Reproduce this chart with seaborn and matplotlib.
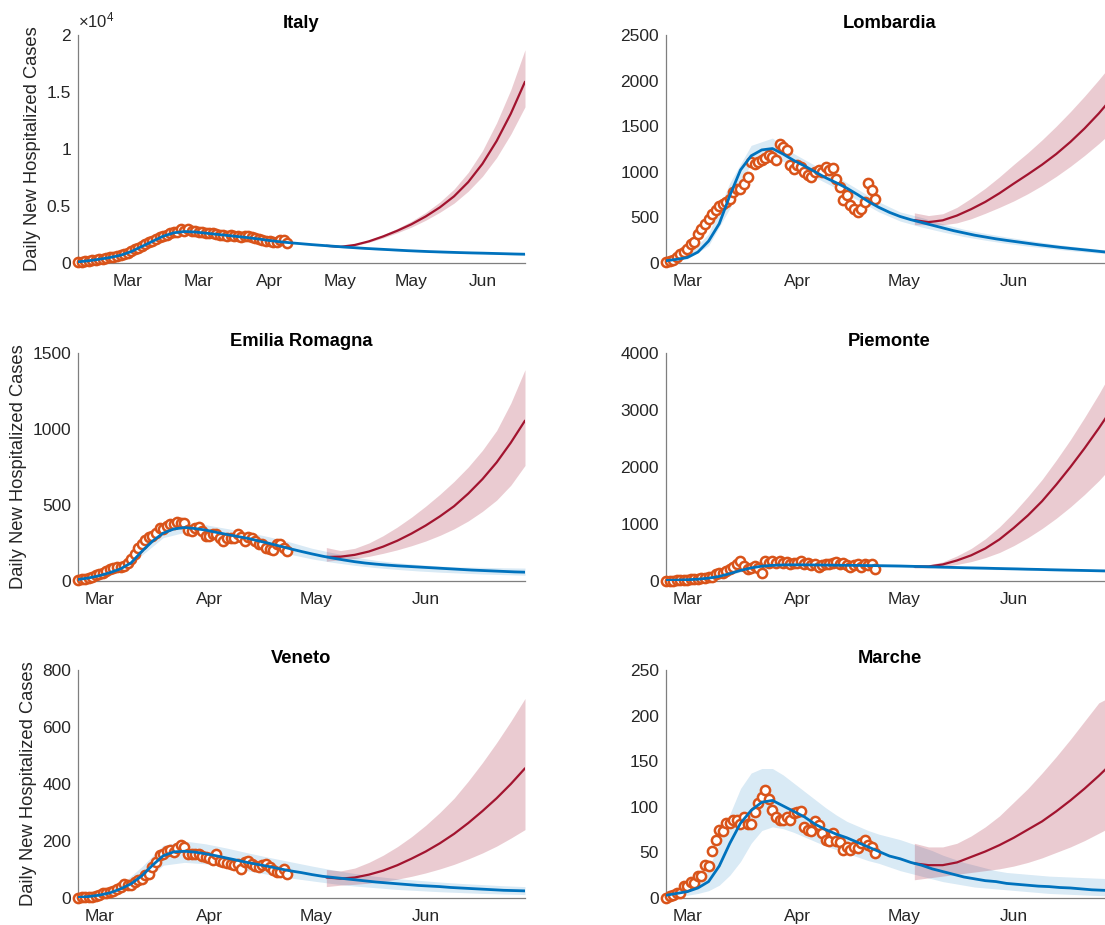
import numpy as np
import pandas as pd
import matplotlib
matplotlib.use("Agg")
import matplotlib.pyplot as plt
import matplotlib.dates as mdates
import seaborn as sns

# ---------------- data ----------------
START = pd.Timestamp("2020-02-24")
obs_days = np.arange(0, 60)          # Feb 24 .. Apr 23
fit_days = np.arange(0, 127, 3)      # fitted curve sample days
band_days = np.arange(0, 127, 6)     # fitted band sample days (coarse)
fc_days = np.arange(70, 127, 4)      # forecast (from May 4)

region_names = ["Italy", "Lombardia", "Emilia Romagna", "Piemonte", "Veneto", "Marche"]

italy_obs = [100, 130, 170, 210, 250, 290, 330, 380, 430, 490, 560, 640, 720, 800, 900, 1050, 1200, 1350, 1500, 1650,
             1800, 1950, 2100, 2250, 2400, 2500, 2600, 2750, 2700, 2950, 2850, 2950, 2800, 2850, 2750, 2700, 2650, 2600, 2600, 2550,
             2500, 2450, 2400, 2450, 2350, 2400, 2300, 2350, 2400, 2300, 2200, 2100, 2000, 1950, 1900, 1850, 1850, 2050, 2050, 1750]
italy_fit = [100, 200, 330, 480, 680, 1000, 1450, 1900, 2350, 2650, 2760, 2720, 2620, 2520, 2420, 2320, 2220, 2100, 1970, 1860,
             1770, 1690, 1610, 1540, 1470, 1400, 1340, 1280, 1230, 1180, 1130, 1080, 1040, 1000, 970, 940, 910, 885, 865, 840,
             815, 790, 770]
italy_lo = [90, 300, 620, 1380, 2300, 2680, 2530, 2320, 2120, 1880, 1690, 1540, 1400, 1270, 1160, 1060, 980, 900, 840, 790, 750, 700]
italy_hi = [115, 360, 740, 1620, 2500, 2880, 2690, 2480, 2290, 2030, 1840, 1690, 1550, 1420, 1310, 1210, 1120, 1050, 990, 940, 890, 850]
italy_fc = [1510, 1420, 1580, 1900, 2330, 2830, 3400, 4080, 4880, 5850, 7100, 8700, 10700, 13100, 15900]
italy_fc_lo = [1480, 1380, 1520, 1810, 2200, 2650, 3150, 3750, 4450, 5250, 6300, 7600, 9250, 11300, 13700]
italy_fc_hi = [1540, 1470, 1650, 2010, 2480, 3030, 3670, 4430, 5350, 6480, 7950, 9850, 12300, 15200, 18700]

lomb_obs = [10, 22, 37, 66, 95, 121, 157, 212, 230, 322, 377, 432, 487, 534, 578, 622, 651, 670, 706, 780,
            816, 816, 871, 944, 1109, 1091, 1109, 1127, 1146, 1182, 1164, 1127, 1310, 1274, 1237, 1072, 1036, 1072, 1054, 999,
            963, 944, 999, 1017, 999, 1054, 1017, 1047, 926, 834, 688, 743, 633, 597, 560, 597, 670, 878, 798, 706]
lomb_fit = [25, 40, 60, 120, 240, 430, 740, 1020, 1175, 1240, 1255, 1195, 1125, 1065, 1000, 935, 880, 820, 750, 675,
            610, 555, 510, 475, 445, 415, 385, 355, 330, 305, 285, 265, 248, 232, 216, 200, 186, 172, 160, 148,
            136, 124, 112]
lomb_lo = [15, 45, 190, 600, 1100, 1170, 1060, 940, 820, 690, 560, 460, 395, 340, 290, 250, 215, 185, 160, 135, 115, 95]
lomb_hi = [40, 80, 320, 880, 1290, 1370, 1200, 1070, 950, 810, 670, 560, 500, 430, 370, 325, 285, 250, 215, 185, 160, 135]
lomb_fc = [470, 448, 468, 520, 590, 670, 765, 870, 972, 1078, 1195, 1328, 1476, 1640, 1823]
lomb_fc_lo = [420, 420, 418, 440, 485, 545, 610, 680, 760, 850, 950, 1060, 1180, 1310, 1450]
lomb_fc_hi = [550, 520, 540, 610, 710, 820, 945, 1080, 1210, 1350, 1500, 1660, 1830, 2010, 2200]

emil_obs = [7, 11, 15, 22, 28, 39, 48, 55, 66, 77, 88, 94,
            90, 99, 120, 142, 175, 219, 241, 267, 289, 296, 318, 350, 339, 361, 372, 372, 390, 383, 380,
            333, 328, 346, 355, 328, 296, 296, 307, 311, 285, 263, 285, 280, 280, 307, 290, 263, 289, 285, 263,
            245, 241, 219, 208, 201, 241, 241, 215, 197]
emil_fit = [10, 20, 35, 55, 80, 120, 195, 262, 315, 342, 352, 345, 335, 320, 306, 293, 280, 263, 247, 229,
            211, 194, 178, 163, 150, 138, 127, 118, 111, 105, 100, 96, 92, 88, 84, 80, 76, 72, 69, 66,
            63, 60, 58]
emil_lo = [5, 25, 70, 170, 285, 320, 300, 270, 240, 205, 175, 145, 122, 103, 88, 76, 66, 58, 52, 46, 42, 38]
emil_hi = [15, 45, 100, 215, 335, 385, 370, 345, 320, 290, 255, 215, 185, 158, 136, 120, 108, 98, 92, 90, 87, 85]
emil_fc = [158, 160, 172, 194, 226, 265, 312, 365, 425, 492, 575, 670, 780, 910, 1055]
emil_fc_lo = [130, 140, 148, 162, 182, 205, 232, 263, 300, 343, 395, 458, 532, 630, 760]
emil_fc_hi = [220, 200, 215, 250, 298, 355, 420, 492, 570, 655, 750, 860, 990, 1170, 1390]

piem_obs = [0, 0, 6, 12, 12, 18, 23, 29, 35, 41, 47, 53, 65, 76, 117, 147, 135, 176, 205, 252,
            293, 352, 264, 205, 235, 264, 235, 147, 352, 323, 352, 311, 352, 311, 335, 293, 311, 323, 352, 293,
            311, 276, 293, 252, 276, 293, 293, 323, 335, 293, 311, 276, 252, 276, 293, 252, 293, 276, 293, 205]
piem_fit = [10, 15, 22, 32, 50, 80, 130, 185, 230, 260, 275, 282, 284, 283, 281, 279, 277, 275, 273, 271,
            269, 266, 263, 258, 253, 248, 243, 238, 233, 229, 225, 220, 216, 212, 207, 203, 198, 194, 190, 186,
            182, 178, 174]
piem_lo = [5, 15, 40, 110, 205, 250, 260, 257, 253, 249, 245, 239, 230, 221, 212, 204, 196, 188, 180, 172, 165, 158]
piem_hi = [15, 30, 60, 150, 255, 300, 310, 305, 301, 297, 293, 287, 276, 265, 254, 246, 236, 226, 216, 208, 199, 190]
piem_fc = [255, 255, 290, 360, 450, 570, 730, 930, 1150, 1400, 1690, 2000, 2330, 2680, 3050]
piem_fc_lo = [230, 230, 250, 290, 340, 410, 500, 620, 760, 920, 1100, 1300, 1520, 1760, 2030]
piem_fc_hi = [285, 285, 335, 440, 570, 740, 950, 1200, 1480, 1780, 2120, 2480, 2870, 3280, 3720]

vene_obs = [0, 2, 3, 5, 5, 7, 12, 17, 17, 20, 26, 32, 40, 50, 47, 47, 56, 62, 67, 79,
            85, 109, 127, 150, 156, 166, 170, 162, 177, 186, 180, 156, 156, 154, 154, 147, 144, 142, 135, 154,
            130, 127, 123, 121, 115, 118, 103, 127, 130, 121, 111, 109, 115, 118, 109, 97, 91, 91, 103, 85]
vene_fit = [2, 5, 10, 18, 32, 50, 78, 115, 148, 162, 164, 161, 155, 148, 140, 132, 124, 117, 110, 102,
            95, 89, 82, 76, 72, 68, 64, 60, 56, 53, 50, 47, 44, 42, 40, 37, 35, 33, 31, 29,
            27, 26, 25]
vene_lo = [0, 5, 20, 50, 115, 125, 120, 108, 95, 82, 70, 60, 50, 42, 36, 30, 26, 22, 19, 16, 14, 12]
vene_hi = [5, 15, 45, 110, 185, 200, 190, 175, 158, 142, 127, 112, 98, 86, 76, 68, 62, 56, 51, 47, 43, 40]
vene_fc = [72, 68, 72, 82, 96, 115, 138, 163, 192, 225, 263, 305, 350, 400, 455]
vene_fc_lo = [40, 45, 48, 52, 58, 66, 76, 88, 102, 118, 137, 158, 182, 210, 240]
vene_fc_hi = [100, 95, 105, 125, 150, 180, 215, 255, 300, 350, 410, 475, 545, 620, 700]

marc_obs = [0, 2, 3, 5, 6, 13, 13, 18, 16, 24, 24, 36, 35, 51, 64, 75, 73, 82, 82, 85,
            86, 81, 89, 81, 81, 94, 104, 111, 118, 109, 96, 89, 86, 86, 89, 86, 93, 94, 95, 78,
            75, 73, 84, 80, 71, 64, 62, 71, 62, 61, 53, 56, 53, 56, 55, 60, 64, 58, 56, 49]
marc_fit = [3, 5, 7, 11, 18, 35, 60, 82, 96, 105, 107, 101, 95, 89, 81, 75, 70, 66, 61, 56,
            51, 46, 43, 39, 36, 32, 29, 26, 23, 21, 19, 18, 16, 15, 14, 13, 12.5, 11.5, 11, 10,
            9, 8.5, 8]
# Marche band read at the finer (3-day) spacing
marc_lo = [0, 1, 3, 5, 8, 14, 25, 40, 60, 74, 78, 76, 72, 67, 62, 57, 53, 49, 45, 41,
           38, 34, 30, 27, 24, 21, 18, 16, 14, 12, 11, 10, 9, 8, 7, 6, 5, 4.5, 4, 3.5,
           3, 2.5, 2]
marc_hi = [8, 10, 12, 18, 32, 60, 92, 120, 137, 142, 142, 135, 126, 117, 108, 99, 91, 84, 79, 74,
           70, 67, 64, 60, 56, 52, 47, 43, 39, 36, 33, 30, 28, 27, 26, 25, 24, 23.5, 23, 22.5,
           22, 21.5, 21]
marc_fc = [38, 36, 36, 39, 45, 51, 58, 66, 75, 84, 95, 107, 120, 134, 149]
marc_fc_lo = [20, 22, 24, 26, 28, 30, 32, 35, 39, 44, 50, 56, 63, 71, 79]
marc_fc_hi = [60, 56, 56, 60, 68, 78, 90, 105, 120, 137, 155, 174, 194, 214, 222]

y_limits = [20000, 2500, 1500, 4000, 800, 250]
y_steps = [5000, 500, 500, 1000, 200, 50]

# ---------------- style ----------------
sns.set_theme(style="white")
plt.rcParams["font.family"] = ["Liberation Sans", "DejaVu Sans"]
plt.rcParams["mathtext.fontset"] = "custom"
plt.rcParams["mathtext.rm"] = "Liberation Sans"
plt.rcParams["mathtext.it"] = "Liberation Sans"

BLUE = "#0072BD"
ORANGE = "#D95319"
RED = "#A2142F"
AXC = "#7f7f7f"
TXT = "#262626"

fig = plt.figure(figsize=(11.05, 9.25), dpi=100)
W, H = 1105.0, 925.0
col_left = [78, 666]
row_top = [35, 353, 670]
ax_w, ax_h = 447, 228

panels = [
    (italy_obs, italy_fit, italy_lo, italy_hi, italy_fc, italy_fc_lo, italy_fc_hi),
    (lomb_obs, lomb_fit, lomb_lo, lomb_hi, lomb_fc, lomb_fc_lo, lomb_fc_hi),
    (emil_obs, emil_fit, emil_lo, emil_hi, emil_fc, emil_fc_lo, emil_fc_hi),
    (piem_obs, piem_fit, piem_lo, piem_hi, piem_fc, piem_fc_lo, piem_fc_hi),
    (vene_obs, vene_fit, vene_lo, vene_hi, vene_fc, vene_fc_lo, vene_fc_hi),
    (marc_obs, marc_fit, marc_lo, marc_hi, marc_fc, marc_fc_lo, marc_fc_hi),
]

def to_dates(d):
    return START + pd.to_timedelta(d, unit="D")

for i, (name, data) in enumerate(zip(region_names, panels)):
    obs, fit, lo, hi, fc, fc_lo, fc_hi = data
    r, c = divmod(i, 2)
    left = col_left[c] / W
    bottom = (H - row_top[r] - ax_h) / H
    ax = fig.add_axes([left, bottom, ax_w / W, ax_h / H])

    bdays = fit_days if len(lo) == len(fit_days) else band_days
    ax.fill_between(to_dates(bdays), lo, hi, color=BLUE, alpha=0.15, linewidth=0, zorder=1)
    ax.fill_between(to_dates(fc_days), fc_lo, fc_hi, color=RED, alpha=0.22, linewidth=0, zorder=1.5)
    sns.scatterplot(x=to_dates(obs_days), y=obs, ax=ax, marker="o", s=44, color="white",
                    edgecolor=ORANGE, linewidth=1.8, zorder=3, clip_on=False)
    sns.lineplot(x=to_dates(fc_days), y=fc, ax=ax, color=RED, linewidth=1.6, zorder=4)
    sns.lineplot(x=to_dates(fit_days), y=fit, ax=ax, color=BLUE, linewidth=2.0, zorder=5)

    ax.set_xlim(START, pd.Timestamp("2020-06-29"))
    ax.set_ylim(0, y_limits[i])
    yt = np.arange(0, y_limits[i] + 1, y_steps[i])
    ax.set_yticks(yt)
    if i == 0:
        ax.set_yticklabels(["0", "0.5", "1", "1.5", "2"])
        ax.text(0.0, 1.02, r"$\times10^{4}$", transform=ax.transAxes, ha="left", va="bottom",
                fontsize=12, color=TXT)
        xt = [pd.Timestamp(d) for d in ["2020-03-09", "2020-03-29", "2020-04-18",
                                         "2020-05-08", "2020-05-28", "2020-06-17"]]
    else:
        ax.set_yticklabels([str(int(v)) for v in yt])
        xt = [pd.Timestamp(d) for d in ["2020-03-01", "2020-04-01", "2020-05-01", "2020-06-01"]]
    ax.set_xticks(xt)
    ax.xaxis.set_major_formatter(mdates.DateFormatter("%b"))

    for s in ["top", "right"]:
        ax.spines[s].set_visible(False)
    for s in ["left", "bottom"]:
        ax.spines[s].set_color(AXC)
        ax.spines[s].set_linewidth(0.9)
    ax.tick_params(direction="in", length=4, width=0.8, color=AXC, labelcolor=TXT,
                   labelsize=12.5)
    ax.tick_params(axis="x", pad=8)
    ax.tick_params(axis="y", pad=5)
    ax.set_title(name, fontsize=13.2, fontweight="bold", color="black", pad=5)
    ax.set_xlabel("")
    if c == 0:
        ax.set_ylabel("Daily New Hospitalized Cases", fontsize=13.2, color=TXT, labelpad=4)
    else:
        ax.set_ylabel("")
    ax.grid(False)

fig.savefig("out.png", dpi=100)
